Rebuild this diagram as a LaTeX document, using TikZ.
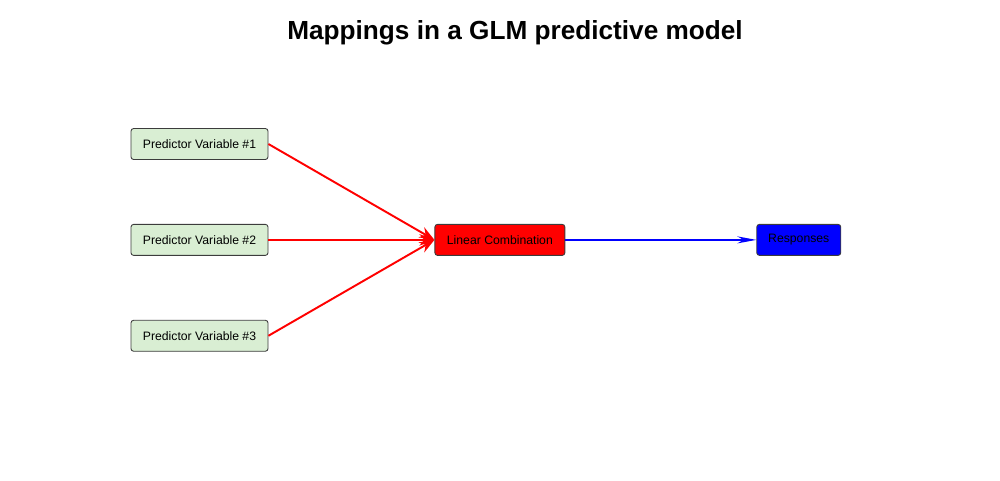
\documentclass[tikz,border=0pt]{standalone}
\usepackage{fontspec}
\setmainfont{Liberation Sans}
\usepackage{xcolor}
\usetikzlibrary{
  arrows.meta,
  positioning
}
\definecolor{predfill}{RGB}{217,238,211}
\definecolor{boxedge}{RGB}{60,60,60}
\tikzset{
  glm/.style={ font=\fontsize{6.95}{8}\selectfont },
  varbox/.style={
    rounded corners=1.5pt,
    draw=boxedge,
    fill=#1,
    line width=0.5pt,
    minimum height=0.62cm,
    align=center,
    inner sep=2pt
  },
  redarrow/.style={
    -{Stealth[length=3mm,width=2.3mm]},
    line width=1.1pt,
    draw=red
  },
  bluearrow/.style={
    -{Stealth[length=3.8mm,width=1.4mm]},
    line width=0.85pt,
    draw=blue
  }
}

\begin{document}
\begin{tikzpicture}[glm, node distance=1.28cm]
  \useasboundingbox (0,0) rectangle (20,-9.6);
  \node[font=\fontsize{14.9}{17}\selectfont\bfseries] (title) at (10.3,-0.66)
    {Mappings in a GLM predictive model};
  \node[varbox=predfill, minimum width=2.74cm] (pv1) at (3.99,-2.88)
    {Predictor Variable \#1};
  \node[varbox=predfill, minimum width=2.74cm, below=of pv1] (pv2)
    {Predictor Variable \#2};
  \node[varbox=predfill, minimum width=2.74cm, below=of pv2] (pv3)
    {Predictor Variable \#3};
  \node[varbox=red, minimum width=2.6cm, right=3.32cm of pv2] (lincomb)
    {Linear Combination};
  \node[varbox=blue, minimum width=1.68cm, right=3.82cm of lincomb] (resp)
    {Responses};
  \draw[redarrow] (pv1.east) -- (lincomb.west);
  \draw[redarrow] (pv2.east) -- (lincomb.west);
  \draw[redarrow] (pv3.east) -- (lincomb.west);
  \draw[bluearrow] (lincomb) -- (resp);
\end{tikzpicture}
\end{document}
